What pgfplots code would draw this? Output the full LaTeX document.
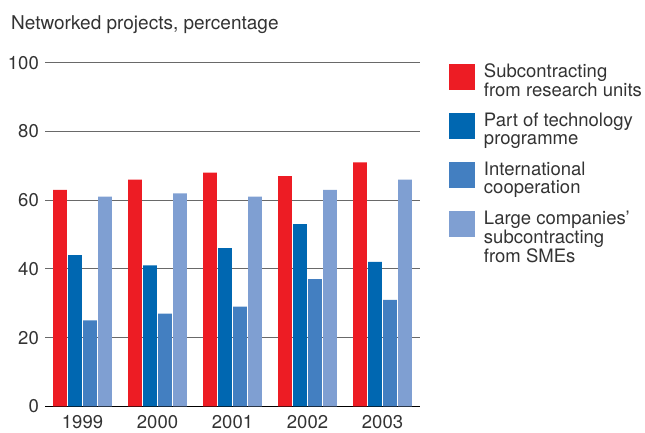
\documentclass[border=0pt]{standalone}
\usepackage{pgfplots}
\pgfplotsset{compat=1.18}
\usepackage{fontspec}
\setmainfont{TeX Gyre Heros}
\definecolor{cRed}{RGB}{237,28,36}
\definecolor{cDark}{RGB}{0,103,177}
\definecolor{cMid}{RGB}{67,127,193}
\definecolor{cLight}{RGB}{127,159,210}
\definecolor{txt}{RGB}{51,51,51}
\definecolor{gridc}{RGB}{105,105,105}
\newcommand{\bigfont}{\fontsize{18.5}{17.3}\selectfont}
\begin{document}
\begin{tikzpicture}[x=1pt,y=1pt]
\useasboundingbox (0,0) rectangle (645,432);
\node[anchor=base west, inner sep=0pt, font=\fontsize{19}{20}\selectfont, text=txt] at (11,402) {Networked projects, percentage};
\begin{axis}[
  at={(45pt,25.7pt)}, anchor=south west,
  scale only axis, width=375pt, height=343.6pt,
  xmin=-0.5, xmax=4.5, ymin=0, ymax=100,
  axis x line*=bottom, axis y line*=left,
  x axis line style={draw=black, line width=1pt, -},
  y axis line style={draw=none},
  major tick length=0pt,
  ytick={0,20,40,60,80,100},
  yticklabels={0,20,40,60,80,100},
  xtick={0,1,2,3,4},
  xticklabels={1999,2000,2001,2002,2003},
  ymajorgrids,
  grid style={gridc, line width=1pt},
  tick label style={font=\bigfont, text=txt},
  /pgf/number format/assume math mode=true,
  yticklabel style={anchor=east, inner sep=0pt, xshift=-6pt},
  xticklabel style={anchor=north, inner sep=0pt, yshift=-8.5pt},
  clip=false,
  legend style={at={(1.0773,0.9971)}, anchor=north west, draw=none, fill=none,
    inner sep=0pt, outer sep=0pt, row sep=0pt, column sep=9pt,
    cells={anchor=base west},
    nodes={inner sep=0pt, outer sep=0pt, text height=14.3pt, text depth=34.7pt, font=\bigfont, text=txt}},
]
\addplot[ybar, bar width=0.183, bar shift=-0.3, fill=cRed, draw=none,
  legend image code/.code={\fill[cRed] (0pt,-11.7pt) rectangle (26pt,14.3pt);}]
  coordinates {(0,63) (1,66) (2,68) (3,67) (4,71)};
\addlegendentry{\parbox[t]{170pt}{Subcontracting\\from research units}}
\addplot[ybar, bar width=0.183, bar shift=-0.1, fill=cDark, draw=none,
  legend image code/.code={\fill[cDark] (0pt,-11.7pt) rectangle (26pt,14.3pt);}]
  coordinates {(0,44) (1,41) (2,46) (3,53) (4,42)};
\addlegendentry{\parbox[t]{170pt}{Part of technology\\programme}}
\addplot[ybar, bar width=0.183, bar shift=0.1, fill=cMid, draw=none,
  legend image code/.code={\fill[cMid] (0pt,-11.7pt) rectangle (26pt,14.3pt);}]
  coordinates {(0,25) (1,27) (2,29) (3,37) (4,31)};
\addlegendentry{\parbox[t]{170pt}{International\\cooperation}}
\addplot[ybar, bar width=0.183, bar shift=0.3, fill=cLight, draw=none,
  legend image code/.code={\fill[cLight] (0pt,-11.7pt) rectangle (26pt,14.3pt);}]
  coordinates {(0,61) (1,62) (2,61) (3,63) (4,66)};
\addlegendentry{\parbox[t]{170pt}{Large companies’\\subcontracting\\from SMEs}}
\end{axis}
\end{tikzpicture}
\end{document}
